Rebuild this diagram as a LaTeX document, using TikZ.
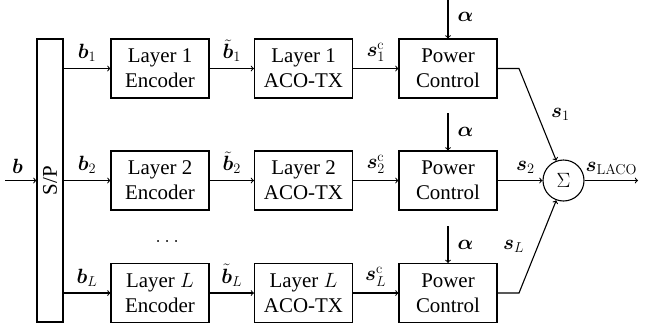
\documentclass[tikz,border=0pt]{standalone}
\usepackage{amsmath,bm}
\usepackage[no-math]{fontspec}
\setmainfont{Liberation Serif}
\begin{document}
\begin{tikzpicture}[x=1bp,y=-1bp, font=\fontsize{21}{25}\selectfont, line width=1.1bp,
  blk/.style={draw, minimum width=98bp, minimum height=59bp, align=center, inner sep=0pt},
  arr/.style={->},
  lbl/.style={inner sep=1bp}]
\path[use as bounding box] (0,0) rectangle (649,330);
% S/P
\node[draw, minimum width=26bp, minimum height=283bp, inner sep=0pt] (sp) at (50,180.5) {\rotatebox{90}{S/P}};
% rows
\node[blk] (e1) at (160,68.5) {Layer 1\\Encoder};
\node[blk] (a1) at (303.5,68.5) {Layer 1\\ACO-TX};
\node[blk] (p1) at (448,68.5) {Power\\Control};
\node[blk] (e2) at (160,180.5) {Layer 2\\Encoder};
\node[blk] (a2) at (303.5,180.5) {Layer 2\\ACO-TX};
\node[blk] (p2) at (448,180.5) {Power\\Control};
\node[blk] (e3) at (160,293) {Layer $L$\\Encoder};
\node[blk] (a3) at (303.5,293) {Layer $L$\\ACO-TX};
\node[blk] (p3) at (448,293) {Power\\Control};
\node (dots) at (169,241) {$\dots$};
% sum
\node[draw, circle, minimum size=41bp, inner sep=0pt] (sum) at (563.5,180.5) {$\Sigma$};
% coordinates
\coordinate (in) at (5,180.5);
\coordinate (out) at (638,180.5);
\coordinate (t1) at (448,0);
\coordinate (t2) at (448,113);
\coordinate (t3) at (448,226);
\coordinate (k1) at (519,68.5);
\coordinate (k3) at (519,293);
% input
\draw[arr] (in) -- node[lbl, above=5bp, pos=0.4]{$\bm{b}$} (sp.west |- in);
% row 1
\draw[arr] (e1.west -| sp.east) -- node[lbl, above=5bp]{$\bm{b}_1$} (e1.west);
\draw[arr] (e1) -- node[lbl, above=5bp]{$\tilde{\bm{b}}_1$} (a1);
\draw[arr] (a1) -- node[lbl, above=5bp]{$\bm{s}_1^{\mathrm{c}}$} (p1);
\draw[arr] (t1) -- node[lbl, right=8bp, pos=0.45]{$\bm{\alpha}$} (p1.north);
% row 2
\draw[arr] (e2.west -| sp.east) -- node[lbl, above=5bp]{$\bm{b}_2$} (e2.west);
\draw[arr] (e2) -- node[lbl, above=5bp]{$\tilde{\bm{b}}_2$} (a2);
\draw[arr] (a2) -- node[lbl, above=5bp]{$\bm{s}_2^{\mathrm{c}}$} (p2);
\draw[arr] (t2) -- node[lbl, right=8bp]{$\bm{\alpha}$} (p2.north);
% row L
\draw[arr] (e3.west -| sp.east) -- node[lbl, above=5bp]{$\bm{b}_L$} (e3.west);
\draw[arr] (e3) -- node[lbl, above=5bp]{$\tilde{\bm{b}}_L$} (a3);
\draw[arr] (a3) -- node[lbl, above=5bp]{$\bm{s}_L^{\mathrm{c}}$} (p3);
\draw[arr] (t3) -- node[lbl, right=8bp]{$\bm{\alpha}$} (p3.north);
% to sum
\draw[arr] (p1.east) -- (k1) -- node[lbl, right=12bp, pos=0.5]{$\bm{s}_1$} (sum.110);
\draw[arr] (p2.east) -- node[lbl, above=5bp, pos=0.62]{$\bm{s}_2$} (sum.west);
\draw[arr] (p3.east) -- (k3) -- node[lbl, left=12bp, pos=0.5]{$\bm{s}_L$} (sum.-110);
\draw[arr] (sum.east) -- node[lbl, above=4bp]{$\bm{s}_{\mathrm{LACO}}$} (out);
\end{tikzpicture}
\end{document}
